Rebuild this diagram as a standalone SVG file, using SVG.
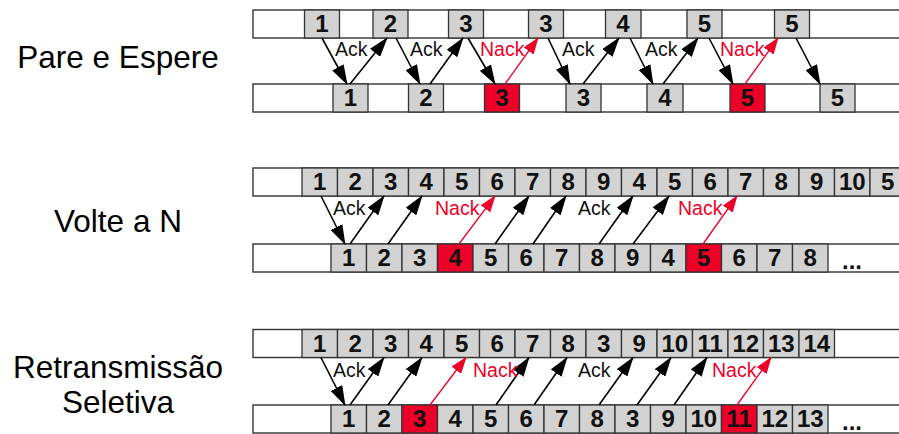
<svg xmlns="http://www.w3.org/2000/svg" width="899" height="434" viewBox="0 0 899 434">
<defs>
<style>
.row{fill:#fff;stroke:#333;stroke-width:1.4}
.c{fill:#d2d2d2;stroke:#333;stroke-width:1.3}
.r{fill:#ec0028;stroke:#333;stroke-width:1.3}
.n{font-family:"Liberation Sans",Arial,sans-serif;font-weight:bold;font-size:24px;fill:#111;text-anchor:middle}
.lab{font-family:"Liberation Sans",Arial,sans-serif;font-size:31.5px;fill:#000;text-anchor:middle}
.ack{font-family:"Liberation Sans",Arial,sans-serif;font-size:19.5px;fill:#111}
.nack{font-family:"Liberation Sans",Arial,sans-serif;font-size:19.5px;fill:#ec0028}
.a{stroke:#000;stroke-width:1.6;fill:none;marker-end:url(#ah)}
.ar{stroke:#ec0028;stroke-width:1.3;fill:none;marker-end:url(#ahr)}
</style>
<marker id="ah" markerUnits="userSpaceOnUse" markerWidth="20" markerHeight="13" refX="19" refY="6.5" orient="auto"><path d="M0,0 L20,6.5 L0,13 z" fill="#000"/></marker>
<marker id="ahr" markerUnits="userSpaceOnUse" markerWidth="17" markerHeight="12" refX="16" refY="6" orient="auto"><path d="M0,0 L17,6 L0,12 z" fill="#ec0028"/></marker>
</defs>

<g id="labels">
<text class="lab" x="118" y="68">Pare e Espere</text>
<text class="lab" x="118" y="232">Volte a N</text>
<text class="lab" x="118" y="378">Retransmissão</text>
<text class="lab" x="118" y="413">Seletiva</text>
</g>

<!-- Section 1: Pare e Espere -->
<g id="pe-top">
<rect class="row" x="253" y="10" width="660" height="28"/>
<rect class="c" x="304.5" y="10" width="35" height="28"/><text class="n" x="322" y="32">1</text>
<rect class="c" x="373" y="10" width="35" height="28"/><text class="n" x="390.5" y="32">2</text>
<rect class="c" x="448.5" y="10" width="35" height="28"/><text class="n" x="466" y="32">3</text>
<rect class="c" x="528.5" y="10" width="35" height="28"/><text class="n" x="546" y="32">3</text>
<rect class="c" x="605.5" y="10" width="35.5" height="28"/><text class="n" x="623" y="32">4</text>
<rect class="c" x="687" y="10" width="35" height="28"/><text class="n" x="704.5" y="32">5</text>
<rect class="c" x="774.5" y="10" width="35" height="28"/><text class="n" x="792" y="32">5</text>
</g>
<g id="pe-bottom">
<rect class="row" x="253" y="84" width="660" height="28"/>
<rect class="c" x="333" y="84" width="35" height="28"/><text class="n" x="350.5" y="106">1</text>
<rect class="c" x="408.5" y="84" width="35" height="28"/><text class="n" x="426" y="106">2</text>
<rect class="r" x="484.5" y="84" width="35" height="28"/><text class="n" x="502" y="106">3</text>
<rect class="c" x="566" y="84" width="35" height="28"/><text class="n" x="583.5" y="106">3</text>
<rect class="c" x="647" y="84" width="36" height="28"/><text class="n" x="665" y="106">4</text>
<rect class="r" x="730" y="84" width="35" height="28"/><text class="n" x="747.5" y="106">5</text>
<rect class="c" x="820" y="84" width="35" height="28"/><text class="n" x="837.5" y="106">5</text>
</g>

<!-- Section 2: Volte a N -->
<g id="vn-top">
<rect class="row" x="253" y="168" width="660" height="28"/>
<rect class="c" x="302" y="168" width="35.5" height="28"/><text class="n" x="319.75" y="190">1</text>
<rect class="c" x="337.5" y="168" width="35.5" height="28"/><text class="n" x="355.25" y="190">2</text>
<rect class="c" x="373" y="168" width="35.5" height="28"/><text class="n" x="390.75" y="190">3</text>
<rect class="c" x="408.5" y="168" width="35.5" height="28"/><text class="n" x="426.25" y="190">4</text>
<rect class="c" x="444" y="168" width="35.5" height="28"/><text class="n" x="461.75" y="190">5</text>
<rect class="c" x="479.5" y="168" width="35.5" height="28"/><text class="n" x="497.25" y="190">6</text>
<rect class="c" x="515" y="168" width="35.5" height="28"/><text class="n" x="532.75" y="190">7</text>
<rect class="c" x="550.5" y="168" width="35.5" height="28"/><text class="n" x="568.25" y="190">8</text>
<rect class="c" x="586" y="168" width="35.5" height="28"/><text class="n" x="603.75" y="190">9</text>
<rect class="c" x="621.5" y="168" width="35.5" height="28"/><text class="n" x="639.25" y="190">4</text>
<rect class="c" x="657" y="168" width="35.5" height="28"/><text class="n" x="674.75" y="190">5</text>
<rect class="c" x="692.5" y="168" width="35.5" height="28"/><text class="n" x="710.25" y="190">6</text>
<rect class="c" x="728" y="168" width="35.5" height="28"/><text class="n" x="745.75" y="190">7</text>
<rect class="c" x="763.5" y="168" width="35.5" height="28"/><text class="n" x="781.25" y="190">8</text>
<rect class="c" x="799" y="168" width="35.5" height="28"/><text class="n" x="816.75" y="190">9</text>
<rect class="c" x="834.5" y="168" width="35.5" height="28"/><text class="n" x="852.25" y="190">10</text>
<rect class="c" x="870" y="168" width="35.5" height="28"/><text class="n" x="887.75" y="190">5</text>
</g>
<g id="vn-bottom">
<rect class="row" x="253" y="244" width="660" height="28"/>
<rect class="c" x="331" y="244" width="35.5" height="28"/><text class="n" x="348.75" y="266">1</text>
<rect class="c" x="366.5" y="244" width="35.5" height="28"/><text class="n" x="384.25" y="266">2</text>
<rect class="c" x="402" y="244" width="35.5" height="28"/><text class="n" x="419.75" y="266">3</text>
<rect class="r" x="437.5" y="244" width="35.5" height="28"/><text class="n" x="455.25" y="266">4</text>
<rect class="c" x="473" y="244" width="35.5" height="28"/><text class="n" x="490.75" y="266">5</text>
<rect class="c" x="508.5" y="244" width="35.5" height="28"/><text class="n" x="526.25" y="266">6</text>
<rect class="c" x="544" y="244" width="35.5" height="28"/><text class="n" x="561.75" y="266">7</text>
<rect class="c" x="579.5" y="244" width="35.5" height="28"/><text class="n" x="597.25" y="266">8</text>
<rect class="c" x="615" y="244" width="35.5" height="28"/><text class="n" x="632.75" y="266">9</text>
<rect class="c" x="650.5" y="244" width="35.5" height="28"/><text class="n" x="668.25" y="266">4</text>
<rect class="r" x="686" y="244" width="35.5" height="28"/><text class="n" x="703.75" y="266">5</text>
<rect class="c" x="721.5" y="244" width="35.5" height="28"/><text class="n" x="739.25" y="266">6</text>
<rect class="c" x="757" y="244" width="35.5" height="28"/><text class="n" x="774.75" y="266">7</text>
<rect class="c" x="792.5" y="244" width="35.5" height="28"/><text class="n" x="810.25" y="266">8</text>
<text class="n" x="852" y="268.5">...</text>
</g>

<!-- Section 3: Retransmissao Seletiva -->
<g id="rs-top">
<rect class="row" x="253" y="329.5" width="660" height="28"/>
<rect class="c" x="302" y="329.5" width="35.5" height="28"/><text class="n" x="319.75" y="351.5">1</text>
<rect class="c" x="337.5" y="329.5" width="35.5" height="28"/><text class="n" x="355.25" y="351.5">2</text>
<rect class="c" x="373" y="329.5" width="35.5" height="28"/><text class="n" x="390.75" y="351.5">3</text>
<rect class="c" x="408.5" y="329.5" width="35.5" height="28"/><text class="n" x="426.25" y="351.5">4</text>
<rect class="c" x="444" y="329.5" width="35.5" height="28"/><text class="n" x="461.75" y="351.5">5</text>
<rect class="c" x="479.5" y="329.5" width="35.5" height="28"/><text class="n" x="497.25" y="351.5">6</text>
<rect class="c" x="515" y="329.5" width="35.5" height="28"/><text class="n" x="532.75" y="351.5">7</text>
<rect class="c" x="550.5" y="329.5" width="35.5" height="28"/><text class="n" x="568.25" y="351.5">8</text>
<rect class="c" x="586" y="329.5" width="35.5" height="28"/><text class="n" x="603.75" y="351.5">3</text>
<rect class="c" x="621.5" y="329.5" width="35.5" height="28"/><text class="n" x="639.25" y="351.5">9</text>
<rect class="c" x="657" y="329.5" width="35.5" height="28"/><text class="n" x="674.75" y="351.5">10</text>
<rect class="c" x="692.5" y="329.5" width="35.5" height="28"/><text class="n" x="710.25" y="351.5">11</text>
<rect class="c" x="728" y="329.5" width="35.5" height="28"/><text class="n" x="745.75" y="351.5">12</text>
<rect class="c" x="763.5" y="329.5" width="35.5" height="28"/><text class="n" x="781.25" y="351.5">13</text>
<rect class="c" x="799" y="329.5" width="35.5" height="28"/><text class="n" x="816.75" y="351.5">14</text>
</g>
<g id="rs-bottom">
<rect class="row" x="253" y="405" width="660" height="28"/>
<rect class="c" x="331" y="405" width="35.5" height="28"/><text class="n" x="348.75" y="427">1</text>
<rect class="c" x="366.5" y="405" width="35.5" height="28"/><text class="n" x="384.25" y="427">2</text>
<rect class="r" x="402" y="405" width="35.5" height="28"/><text class="n" x="419.75" y="427">3</text>
<rect class="c" x="437.5" y="405" width="35.5" height="28"/><text class="n" x="455.25" y="427">4</text>
<rect class="c" x="473" y="405" width="35.5" height="28"/><text class="n" x="490.75" y="427">5</text>
<rect class="c" x="508.5" y="405" width="35.5" height="28"/><text class="n" x="526.25" y="427">6</text>
<rect class="c" x="544" y="405" width="35.5" height="28"/><text class="n" x="561.75" y="427">7</text>
<rect class="c" x="579.5" y="405" width="35.5" height="28"/><text class="n" x="597.25" y="427">8</text>
<rect class="c" x="615" y="405" width="35.5" height="28"/><text class="n" x="632.75" y="427">3</text>
<rect class="c" x="650.5" y="405" width="35.5" height="28"/><text class="n" x="668.25" y="427">9</text>
<rect class="c" x="686" y="405" width="35.5" height="28"/><text class="n" x="703.75" y="427">10</text>
<rect class="r" x="721.5" y="405" width="35.5" height="28"/><text class="n" x="739.25" y="427">11</text>
<rect class="c" x="757" y="405" width="35.5" height="28"/><text class="n" x="774.75" y="427">12</text>
<rect class="c" x="792.5" y="405" width="35.5" height="28"/><text class="n" x="810.25" y="427">13</text>
<text class="n" x="852" y="429.5">...</text>
</g>

<g id="connectors">
<!-- Section 1 -->
<line class="a" x1="322" y1="38" x2="347" y2="84"/>
<line class="a" x1="350" y1="84" x2="387" y2="38"/>
<line class="a" x1="396" y1="38" x2="420" y2="84"/>
<line class="a" x1="430" y1="84" x2="463" y2="38"/>
<line class="a" x1="468" y1="38" x2="495" y2="84"/>
<line class="ar" x1="505" y1="84" x2="538" y2="38"/>
<line class="a" x1="548" y1="38" x2="570" y2="84"/>
<line class="a" x1="583" y1="84" x2="619" y2="38"/>
<line class="a" x1="630" y1="38" x2="653" y2="84"/>
<line class="a" x1="663" y1="84" x2="698" y2="38"/>
<line class="a" x1="709" y1="38" x2="733" y2="84"/>
<line class="ar" x1="745" y1="84" x2="778" y2="38"/>
<line class="a" x1="796" y1="38" x2="820" y2="84"/>
<!-- Section 2 -->
<line class="a" x1="321" y1="196" x2="345" y2="244"/>
<line class="a" x1="350" y1="244" x2="384" y2="196"/>
<line class="a" x1="388" y1="244" x2="422" y2="196"/>
<line class="ar" x1="459" y1="244" x2="495" y2="196"/>
<line class="a" x1="495" y1="244" x2="529" y2="196"/>
<line class="a" x1="533" y1="244" x2="566" y2="196"/>
<line class="a" x1="599" y1="244" x2="633" y2="196"/>
<line class="a" x1="633" y1="244" x2="669" y2="196"/>
<line class="ar" x1="703" y1="244" x2="737" y2="196"/>
<!-- Section 3 -->
<line class="a" x1="321" y1="357.5" x2="345" y2="405"/>
<line class="a" x1="350" y1="405" x2="384" y2="357.5"/>
<line class="a" x1="388" y1="405" x2="422" y2="357.5"/>
<line class="ar" x1="430" y1="405" x2="466" y2="357.5"/>
<line class="a" x1="496" y1="405" x2="529" y2="357.5"/>
<line class="a" x1="534" y1="405" x2="567" y2="357.5"/>
<line class="a" x1="599" y1="405" x2="633" y2="357.5"/>
<line class="a" x1="637" y1="405" x2="671" y2="357.5"/>
<line class="a" x1="674" y1="405" x2="707" y2="357.5"/>
<line class="ar" x1="737" y1="405" x2="771" y2="357.5"/>
</g>

<g id="connector-labels">
<text class="ack" x="335" y="55.5">Ack</text>
<text class="ack" x="410" y="55.5">Ack</text>
<text class="nack" x="480" y="55.5">Nack</text>
<text class="ack" x="562" y="55.5">Ack</text>
<text class="ack" x="645" y="55.5">Ack</text>
<text class="nack" x="720" y="55.5">Nack</text>
<text class="ack" x="333" y="214.5">Ack</text>
<text class="nack" x="435" y="214.5">Nack</text>
<text class="ack" x="578" y="214.5">Ack</text>
<text class="nack" x="678" y="214.5">Nack</text>
<text class="ack" x="333" y="376.5">Ack</text>
<text class="nack" x="473" y="376.5">Nack</text>
<text class="ack" x="578" y="376.5">Ack</text>
<text class="nack" x="712" y="376.5">Nack</text>
</g>
</svg>
